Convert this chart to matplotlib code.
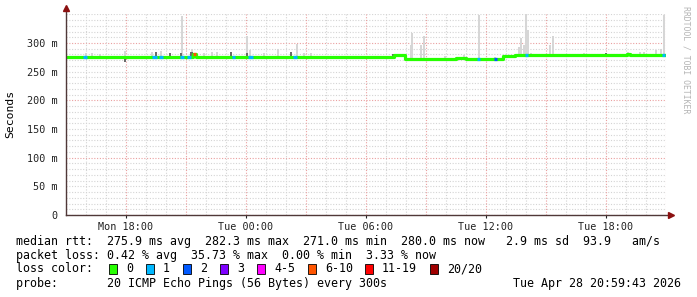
import matplotlib
matplotlib.use("Agg")
import matplotlib.pyplot as plt
import matplotlib.dates as mdates
from matplotlib.patches import Rectangle
import numpy as np
import pandas as pd

plt.rcParams["font.family"] = ["DejaVu Sans Mono"]

# --- data ------------------------------------------------------------------
# median rtt (ms), constant from each start time to the next one
rtt_start = ["27 15:00", "27 21:21", "27 21:30", "28 07:24", "28 07:57",
             "28 09:21", "28 09:27", "28 09:57", "28 10:03", "28 10:30",
             "28 11:00", "28 12:51", "28 13:27", "28 19:03", "28 19:12"]
rtt_ms = [275.6, 280.5, 275.6, 279.6, 271.6,
          272.9, 271.6, 272.9, 271.6, 274.3,
          271.6, 276.8, 279.8, 281.6, 279.8]
rtt_end = "28 21:00"

# loss segments (lost pings out of 20) drawn over the median line
loss_start = ["27 15:51", "27 19:18", "27 19:39", "27 20:42", "27 21:03",
              "27 21:21", "27 23:18", "28 00:06", "28 02:21", "28 11:33",
              "28 12:24", "28 13:57", "28 20:48"]
loss_end = ["27 16:03", "27 19:33", "27 19:51", "27 20:54", "27 21:15",
            "27 21:30", "27 23:27", "28 00:21", "28 02:33", "28 11:42",
            "28 12:33", "28 14:06", "28 20:57"]
loss_class = [1, 1, 1, 1, 1, 5, 1, 1, 1, 1, 2, 1, 1]

loss_labels = ["0", "1", "2", "3", "4-5", "6-10", "11-19", "20/20"]
loss_colors = ["#26ff00", "#00b8ff", "#0059ff", "#7e00ff",
               "#ff00ff", "#ff5500", "#ff0000", "#a00000"]

# light smoke: highest ping of a round (ms)
smoke_time = ["27 16:00", "27 16:18", "27 16:42", "27 17:57", "27 19:18",
              "27 19:45", "27 20:48", "27 21:18", "27 21:54", "27 22:18",
              "27 22:33", "28 00:03", "28 00:12", "28 00:54", "28 01:36",
              "28 02:33", "28 02:54", "28 03:15", "28 08:15", "28 08:18",
              "28 08:45", "28 08:54", "28 09:57", "28 10:54", "28 11:39",
              "28 12:27", "28 13:39", "28 13:45", "28 13:54", "28 14:00",
              "28 14:06", "28 14:15", "28 15:12", "28 15:21", "28 16:54",
              "28 19:06", "28 19:42", "28 19:54", "28 20:30", "28 20:45",
              "28 20:54"]
smoke_top = [282, 282, 281, 286, 284,
             286, 348, 290, 283, 284,
             284, 313, 287, 283, 290,
             299, 283, 283, 296, 317,
             296, 312, 278, 279, 349,
             276, 293, 308, 296, 351,
             322, 283, 297, 313, 282,
             284, 284, 285, 287, 290,
             349]

# dark smoke close to the median
dark_time = ["27 17:57", "27 19:30", "27 20:12", "27 20:45", "27 21:15",
             "27 21:18", "27 23:15", "28 00:03", "28 02:15", "28 07:21",
             "28 18:00"]
dark_lo = [267, 276, 276, 276, 276, 276, 276, 276, 276, 276, 280]
dark_hi = [276, 285, 283, 283, 284, 284, 284, 283, 284, 280, 282]


def ts(s):
    return pd.Timestamp("2026-04-" + s)


t0, t1 = ts("27 15:00"), ts("28 21:00")

fig = plt.figure(figsize=(6.97, 2.97), dpi=100)
fig.patch.set_facecolor("white")
ax = fig.add_axes([66 / 697, 82 / 297, 600 / 697, 201.5 / 297])
ax.set_xlim(t0, t1)
ax.set_ylim(0, 351.5)

# grid (minor grey, major pink, both dotted)
dots = (0, (1, 1.5))
for v in range(0, 351, 10):
    c = "#eaa0a0" if v % 100 == 0 else "#d4d4d4"
    ax.axhline(v, color=c, lw=0.8, ls=dots, zorder=0)
for h in pd.date_range(t0, t1, freq="1h"):
    c = "#eaa0a0" if h.hour % 3 == 0 else "#d4d4d4"
    ax.axvline(h, color=c, lw=0.8, ls=dots, zorder=0)

# smoke
w = 5 / 1440
st = [ts(s) for s in rtt_start] + [ts(rtt_end)]
rv = rtt_ms + [rtt_ms[-1]]
st_num = mdates.date2num(st)


def median_at(s):
    i = np.searchsorted(st_num, mdates.date2num(ts(s)), side="right") - 1
    return rv[max(i, 0)]


sm_x = [ts(s) for s in smoke_time]
sm_base = [median_at(s) for s in smoke_time]
ax.bar(sm_x, np.array(smoke_top) - np.array(sm_base), bottom=sm_base,
       width=w, color="#d6d6d6", linewidth=0, zorder=2)
ax.bar([ts(s) for s in dark_time], np.array(dark_hi) - np.array(dark_lo),
       bottom=dark_lo, width=w * 0.8, color="#6a6a6a", linewidth=0, zorder=3)

# median line
ax.plot(st, rv, drawstyle="steps-post", color=loss_colors[0], lw=2.3,
        solid_capstyle="butt", zorder=4)
for a, b, k in zip(loss_start, loss_end, loss_class):
    ax.hlines(median_at(a), ts(a), ts(b), color=loss_colors[k], lw=2.3,
              zorder=5)

# axes
for sp in ax.spines.values():
    sp.set_visible(False)
ax.plot([0, 0], [0, 1.025], transform=ax.transAxes, color="#503838",
        lw=1, clip_on=False, zorder=6)
ax.plot([0, 1.008], [0, 0], transform=ax.transAxes, color="#503838",
        lw=1, clip_on=False, zorder=6)
ax.plot([0], [1.025], marker="^", ms=4, color="#8b1010",
        transform=ax.transAxes, clip_on=False, zorder=7)
ax.plot([1.008], [0], marker=">", ms=4, color="#8b1010",
        transform=ax.transAxes, clip_on=False, zorder=7)

ax.set_yticks(range(0, 301, 50))
ax.set_yticklabels(["0" if v == 0 else f"{v} m" for v in range(0, 301, 50)])
ax.xaxis.set_major_locator(mdates.HourLocator(byhour=[0, 6, 12, 18]))
ax.xaxis.set_major_formatter(mdates.DateFormatter("%a %H:%M"))
ax.tick_params(axis="y", length=0, pad=6, labelsize=7.3, colors="#222222")
ax.tick_params(axis="x", length=2, pad=3, labelsize=7.3, colors="#222222")

fig.text(10 / 697, 1 - 114 / 297, "Seconds", rotation=90, ha="center",
         va="center", fontsize=8.2)
fig.text(686 / 697, 1 - 6 / 297, "RRDTOOL / TOBI OETIKER", rotation=270,
         ha="center", va="top", fontsize=5.9, color="#b4b4b4")

# legend rows
fs = 8.35
fig.text(16 / 697, 1 - 241 / 297,
         "median rtt:  275.9 ms avg  282.3 ms max  271.0 ms min  "
         "280.0 ms now   2.9 ms sd  93.9   am/s",
         va="center", fontsize=fs)
fig.text(16 / 697, 1 - 255 / 297,
         "packet loss: 0.42 % avg  35.73 % max  0.00 % min  3.33 % now",
         va="center", fontsize=fs)
fig.text(16 / 697, 1 - 269 / 297, "loss color:", va="center", fontsize=fs)
box_x = [109, 146, 183, 220, 257, 308, 365, 430]
for bx, lab, col in zip(box_x, loss_labels, loss_colors):
    fig.patches.append(Rectangle((bx / 697, 1 - 274 / 297), 8 / 697, 10 / 297,
                                 transform=fig.transFigure, facecolor=col,
                                 edgecolor="black", lw=0.6))
    fig.text((bx + 17) / 697, 1 - 269 / 297, lab, va="center", fontsize=fs)
fig.text(16 / 697, 1 - 283 / 297,
         "probe:       20 ICMP Echo Pings (56 Bytes) every 300s",
         va="center", fontsize=fs)
fig.text(681 / 697, 1 - 283 / 297, "Tue Apr 28 20:59:43 2026",
         va="center", ha="right", fontsize=fs)

fig.savefig("out.png", dpi=100)
